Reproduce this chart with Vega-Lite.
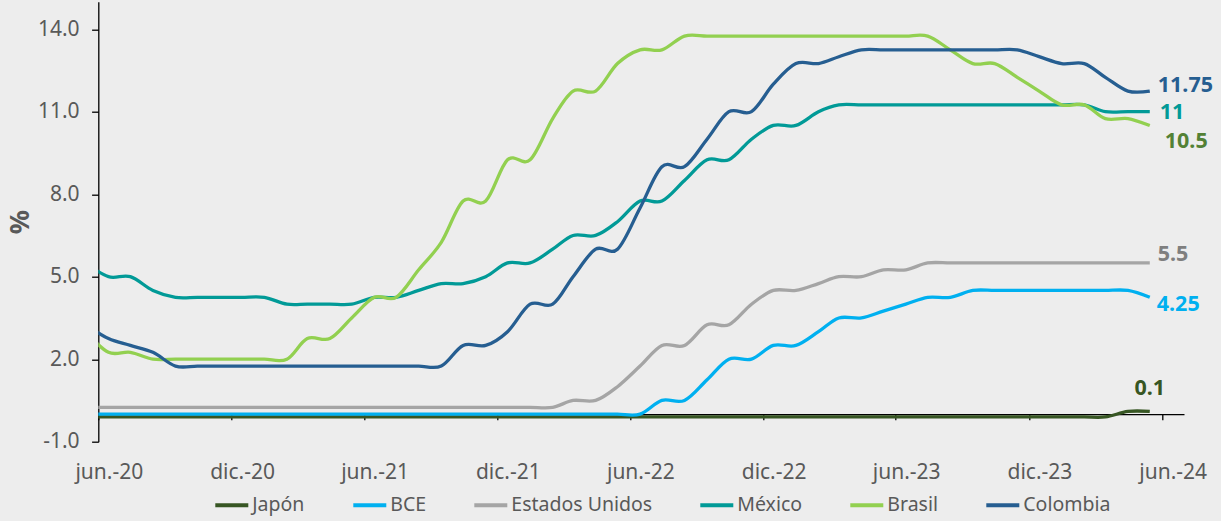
{
  "$schema": "https://vega.github.io/schema/vega-lite/v6.json",
  "width": 1085.7,
  "height": 440,
  "autosize": {"type": "none"},
  "padding": {"left": 98.3, "top": 1.7, "right": 37, "bottom": 79.3},
  "background": "#EDEDED",
  "config": {"view": {"stroke": null}, "font": "Noto Sans"},
  "data": {
    "format": {"parse": {"fecha": "utc:'%Y-%m-%d'"}},
    "values": [
      {"fecha":"2020-05-15","serie":"Japón","tasa":-0.1},{"fecha":"2020-06-15","serie":"Japón","tasa":-0.1},{"fecha":"2020-07-15","serie":"Japón","tasa":-0.1},{"fecha":"2020-08-15","serie":"Japón","tasa":-0.1},{"fecha":"2020-09-15","serie":"Japón","tasa":-0.1},{"fecha":"2020-10-15","serie":"Japón","tasa":-0.1},{"fecha":"2020-11-15","serie":"Japón","tasa":-0.1},{"fecha":"2020-12-15","serie":"Japón","tasa":-0.1},
      {"fecha":"2021-01-15","serie":"Japón","tasa":-0.1},{"fecha":"2021-02-15","serie":"Japón","tasa":-0.1},{"fecha":"2021-03-15","serie":"Japón","tasa":-0.1},{"fecha":"2021-04-15","serie":"Japón","tasa":-0.1},{"fecha":"2021-05-15","serie":"Japón","tasa":-0.1},{"fecha":"2021-06-15","serie":"Japón","tasa":-0.1},{"fecha":"2021-07-15","serie":"Japón","tasa":-0.1},{"fecha":"2021-08-15","serie":"Japón","tasa":-0.1},{"fecha":"2021-09-15","serie":"Japón","tasa":-0.1},{"fecha":"2021-10-15","serie":"Japón","tasa":-0.1},{"fecha":"2021-11-15","serie":"Japón","tasa":-0.1},{"fecha":"2021-12-15","serie":"Japón","tasa":-0.1},
      {"fecha":"2022-01-15","serie":"Japón","tasa":-0.1},{"fecha":"2022-02-15","serie":"Japón","tasa":-0.1},{"fecha":"2022-03-15","serie":"Japón","tasa":-0.1},{"fecha":"2022-04-15","serie":"Japón","tasa":-0.1},{"fecha":"2022-05-15","serie":"Japón","tasa":-0.1},{"fecha":"2022-06-15","serie":"Japón","tasa":-0.1},{"fecha":"2022-07-15","serie":"Japón","tasa":-0.1},{"fecha":"2022-08-15","serie":"Japón","tasa":-0.1},{"fecha":"2022-09-15","serie":"Japón","tasa":-0.1},{"fecha":"2022-10-15","serie":"Japón","tasa":-0.1},{"fecha":"2022-11-15","serie":"Japón","tasa":-0.1},{"fecha":"2022-12-15","serie":"Japón","tasa":-0.1},
      {"fecha":"2023-01-15","serie":"Japón","tasa":-0.1},{"fecha":"2023-02-15","serie":"Japón","tasa":-0.1},{"fecha":"2023-03-15","serie":"Japón","tasa":-0.1},{"fecha":"2023-04-15","serie":"Japón","tasa":-0.1},{"fecha":"2023-05-15","serie":"Japón","tasa":-0.1},{"fecha":"2023-06-15","serie":"Japón","tasa":-0.1},{"fecha":"2023-07-15","serie":"Japón","tasa":-0.1},{"fecha":"2023-08-15","serie":"Japón","tasa":-0.1},{"fecha":"2023-09-15","serie":"Japón","tasa":-0.1},{"fecha":"2023-10-15","serie":"Japón","tasa":-0.1},{"fecha":"2023-11-15","serie":"Japón","tasa":-0.1},{"fecha":"2023-12-15","serie":"Japón","tasa":-0.1},
      {"fecha":"2024-01-15","serie":"Japón","tasa":-0.1},{"fecha":"2024-02-15","serie":"Japón","tasa":-0.1},{"fecha":"2024-03-15","serie":"Japón","tasa":-0.1},{"fecha":"2024-04-15","serie":"Japón","tasa":0.1},{"fecha":"2024-05-15","serie":"Japón","tasa":0.1},

      {"fecha":"2020-05-15","serie":"BCE","tasa":0},{"fecha":"2020-06-15","serie":"BCE","tasa":0},{"fecha":"2020-07-15","serie":"BCE","tasa":0},{"fecha":"2020-08-15","serie":"BCE","tasa":0},{"fecha":"2020-09-15","serie":"BCE","tasa":0},{"fecha":"2020-10-15","serie":"BCE","tasa":0},{"fecha":"2020-11-15","serie":"BCE","tasa":0},{"fecha":"2020-12-15","serie":"BCE","tasa":0},
      {"fecha":"2021-01-15","serie":"BCE","tasa":0},{"fecha":"2021-02-15","serie":"BCE","tasa":0},{"fecha":"2021-03-15","serie":"BCE","tasa":0},{"fecha":"2021-04-15","serie":"BCE","tasa":0},{"fecha":"2021-05-15","serie":"BCE","tasa":0},{"fecha":"2021-06-15","serie":"BCE","tasa":0},{"fecha":"2021-07-15","serie":"BCE","tasa":0},{"fecha":"2021-08-15","serie":"BCE","tasa":0},{"fecha":"2021-09-15","serie":"BCE","tasa":0},{"fecha":"2021-10-15","serie":"BCE","tasa":0},{"fecha":"2021-11-15","serie":"BCE","tasa":0},{"fecha":"2021-12-15","serie":"BCE","tasa":0},
      {"fecha":"2022-01-15","serie":"BCE","tasa":0},{"fecha":"2022-02-15","serie":"BCE","tasa":0},{"fecha":"2022-03-15","serie":"BCE","tasa":0},{"fecha":"2022-04-15","serie":"BCE","tasa":0},{"fecha":"2022-05-15","serie":"BCE","tasa":0},{"fecha":"2022-06-15","serie":"BCE","tasa":0},{"fecha":"2022-07-15","serie":"BCE","tasa":0.5},{"fecha":"2022-08-15","serie":"BCE","tasa":0.5},{"fecha":"2022-09-15","serie":"BCE","tasa":1.25},{"fecha":"2022-10-15","serie":"BCE","tasa":2.0},{"fecha":"2022-11-15","serie":"BCE","tasa":2.0},{"fecha":"2022-12-15","serie":"BCE","tasa":2.5},
      {"fecha":"2023-01-15","serie":"BCE","tasa":2.5},{"fecha":"2023-02-15","serie":"BCE","tasa":3.0},{"fecha":"2023-03-15","serie":"BCE","tasa":3.5},{"fecha":"2023-04-15","serie":"BCE","tasa":3.5},{"fecha":"2023-05-15","serie":"BCE","tasa":3.75},{"fecha":"2023-06-15","serie":"BCE","tasa":4.0},{"fecha":"2023-07-15","serie":"BCE","tasa":4.25},{"fecha":"2023-08-15","serie":"BCE","tasa":4.25},{"fecha":"2023-09-15","serie":"BCE","tasa":4.5},{"fecha":"2023-10-15","serie":"BCE","tasa":4.5},{"fecha":"2023-11-15","serie":"BCE","tasa":4.5},{"fecha":"2023-12-15","serie":"BCE","tasa":4.5},
      {"fecha":"2024-01-15","serie":"BCE","tasa":4.5},{"fecha":"2024-02-15","serie":"BCE","tasa":4.5},{"fecha":"2024-03-15","serie":"BCE","tasa":4.5},{"fecha":"2024-04-15","serie":"BCE","tasa":4.5},{"fecha":"2024-05-15","serie":"BCE","tasa":4.25},

      {"fecha":"2020-05-15","serie":"Estados Unidos","tasa":0.25},{"fecha":"2020-06-15","serie":"Estados Unidos","tasa":0.25},{"fecha":"2020-07-15","serie":"Estados Unidos","tasa":0.25},{"fecha":"2020-08-15","serie":"Estados Unidos","tasa":0.25},{"fecha":"2020-09-15","serie":"Estados Unidos","tasa":0.25},{"fecha":"2020-10-15","serie":"Estados Unidos","tasa":0.25},{"fecha":"2020-11-15","serie":"Estados Unidos","tasa":0.25},{"fecha":"2020-12-15","serie":"Estados Unidos","tasa":0.25},
      {"fecha":"2021-01-15","serie":"Estados Unidos","tasa":0.25},{"fecha":"2021-02-15","serie":"Estados Unidos","tasa":0.25},{"fecha":"2021-03-15","serie":"Estados Unidos","tasa":0.25},{"fecha":"2021-04-15","serie":"Estados Unidos","tasa":0.25},{"fecha":"2021-05-15","serie":"Estados Unidos","tasa":0.25},{"fecha":"2021-06-15","serie":"Estados Unidos","tasa":0.25},{"fecha":"2021-07-15","serie":"Estados Unidos","tasa":0.25},{"fecha":"2021-08-15","serie":"Estados Unidos","tasa":0.25},{"fecha":"2021-09-15","serie":"Estados Unidos","tasa":0.25},{"fecha":"2021-10-15","serie":"Estados Unidos","tasa":0.25},{"fecha":"2021-11-15","serie":"Estados Unidos","tasa":0.25},{"fecha":"2021-12-15","serie":"Estados Unidos","tasa":0.25},
      {"fecha":"2022-01-15","serie":"Estados Unidos","tasa":0.25},{"fecha":"2022-02-15","serie":"Estados Unidos","tasa":0.25},{"fecha":"2022-03-15","serie":"Estados Unidos","tasa":0.5},{"fecha":"2022-04-15","serie":"Estados Unidos","tasa":0.5},{"fecha":"2022-05-15","serie":"Estados Unidos","tasa":1.0},{"fecha":"2022-06-15","serie":"Estados Unidos","tasa":1.75},{"fecha":"2022-07-15","serie":"Estados Unidos","tasa":2.5},{"fecha":"2022-08-15","serie":"Estados Unidos","tasa":2.5},{"fecha":"2022-09-15","serie":"Estados Unidos","tasa":3.25},{"fecha":"2022-10-15","serie":"Estados Unidos","tasa":3.25},{"fecha":"2022-11-15","serie":"Estados Unidos","tasa":4.0},{"fecha":"2022-12-15","serie":"Estados Unidos","tasa":4.5},
      {"fecha":"2023-01-15","serie":"Estados Unidos","tasa":4.5},{"fecha":"2023-02-15","serie":"Estados Unidos","tasa":4.75},{"fecha":"2023-03-15","serie":"Estados Unidos","tasa":5.0},{"fecha":"2023-04-15","serie":"Estados Unidos","tasa":5.0},{"fecha":"2023-05-15","serie":"Estados Unidos","tasa":5.25},{"fecha":"2023-06-15","serie":"Estados Unidos","tasa":5.25},{"fecha":"2023-07-15","serie":"Estados Unidos","tasa":5.5},{"fecha":"2023-08-15","serie":"Estados Unidos","tasa":5.5},{"fecha":"2023-09-15","serie":"Estados Unidos","tasa":5.5},{"fecha":"2023-10-15","serie":"Estados Unidos","tasa":5.5},{"fecha":"2023-11-15","serie":"Estados Unidos","tasa":5.5},{"fecha":"2023-12-15","serie":"Estados Unidos","tasa":5.5},
      {"fecha":"2024-01-15","serie":"Estados Unidos","tasa":5.5},{"fecha":"2024-02-15","serie":"Estados Unidos","tasa":5.5},{"fecha":"2024-03-15","serie":"Estados Unidos","tasa":5.5},{"fecha":"2024-04-15","serie":"Estados Unidos","tasa":5.5},{"fecha":"2024-05-15","serie":"Estados Unidos","tasa":5.5},

      {"fecha":"2020-05-15","serie":"México","tasa":5.5},{"fecha":"2020-06-15","serie":"México","tasa":5.0},{"fecha":"2020-07-15","serie":"México","tasa":5.0},{"fecha":"2020-08-15","serie":"México","tasa":4.5},{"fecha":"2020-09-15","serie":"México","tasa":4.25},{"fecha":"2020-10-15","serie":"México","tasa":4.25},{"fecha":"2020-11-15","serie":"México","tasa":4.25},{"fecha":"2020-12-15","serie":"México","tasa":4.25},
      {"fecha":"2021-01-15","serie":"México","tasa":4.25},{"fecha":"2021-02-15","serie":"México","tasa":4.0},{"fecha":"2021-03-15","serie":"México","tasa":4.0},{"fecha":"2021-04-15","serie":"México","tasa":4.0},{"fecha":"2021-05-15","serie":"México","tasa":4.0},{"fecha":"2021-06-15","serie":"México","tasa":4.25},{"fecha":"2021-07-15","serie":"México","tasa":4.25},{"fecha":"2021-08-15","serie":"México","tasa":4.5},{"fecha":"2021-09-15","serie":"México","tasa":4.75},{"fecha":"2021-10-15","serie":"México","tasa":4.75},{"fecha":"2021-11-15","serie":"México","tasa":5.0},{"fecha":"2021-12-15","serie":"México","tasa":5.5},
      {"fecha":"2022-01-15","serie":"México","tasa":5.5},{"fecha":"2022-02-15","serie":"México","tasa":6.0},{"fecha":"2022-03-15","serie":"México","tasa":6.5},{"fecha":"2022-04-15","serie":"México","tasa":6.5},{"fecha":"2022-05-15","serie":"México","tasa":7.0},{"fecha":"2022-06-15","serie":"México","tasa":7.75},{"fecha":"2022-07-15","serie":"México","tasa":7.75},{"fecha":"2022-08-15","serie":"México","tasa":8.5},{"fecha":"2022-09-15","serie":"México","tasa":9.25},{"fecha":"2022-10-15","serie":"México","tasa":9.25},{"fecha":"2022-11-15","serie":"México","tasa":10.0},{"fecha":"2022-12-15","serie":"México","tasa":10.5},
      {"fecha":"2023-01-15","serie":"México","tasa":10.5},{"fecha":"2023-02-15","serie":"México","tasa":11.0},{"fecha":"2023-03-15","serie":"México","tasa":11.25},{"fecha":"2023-04-15","serie":"México","tasa":11.25},{"fecha":"2023-05-15","serie":"México","tasa":11.25},{"fecha":"2023-06-15","serie":"México","tasa":11.25},{"fecha":"2023-07-15","serie":"México","tasa":11.25},{"fecha":"2023-08-15","serie":"México","tasa":11.25},{"fecha":"2023-09-15","serie":"México","tasa":11.25},{"fecha":"2023-10-15","serie":"México","tasa":11.25},{"fecha":"2023-11-15","serie":"México","tasa":11.25},{"fecha":"2023-12-15","serie":"México","tasa":11.25},
      {"fecha":"2024-01-15","serie":"México","tasa":11.25},{"fecha":"2024-02-15","serie":"México","tasa":11.25},{"fecha":"2024-03-15","serie":"México","tasa":11.0},{"fecha":"2024-04-15","serie":"México","tasa":11.0},{"fecha":"2024-05-15","serie":"México","tasa":11.0},

      {"fecha":"2020-05-15","serie":"Brasil","tasa":3.0},{"fecha":"2020-06-15","serie":"Brasil","tasa":2.25},{"fecha":"2020-07-15","serie":"Brasil","tasa":2.25},{"fecha":"2020-08-15","serie":"Brasil","tasa":2.0},{"fecha":"2020-09-15","serie":"Brasil","tasa":2.0},{"fecha":"2020-10-15","serie":"Brasil","tasa":2.0},{"fecha":"2020-11-15","serie":"Brasil","tasa":2.0},{"fecha":"2020-12-15","serie":"Brasil","tasa":2.0},
      {"fecha":"2021-01-15","serie":"Brasil","tasa":2.0},{"fecha":"2021-02-15","serie":"Brasil","tasa":2.0},{"fecha":"2021-03-15","serie":"Brasil","tasa":2.75},{"fecha":"2021-04-15","serie":"Brasil","tasa":2.75},{"fecha":"2021-05-15","serie":"Brasil","tasa":3.5},{"fecha":"2021-06-15","serie":"Brasil","tasa":4.25},{"fecha":"2021-07-15","serie":"Brasil","tasa":4.25},{"fecha":"2021-08-15","serie":"Brasil","tasa":5.25},{"fecha":"2021-09-15","serie":"Brasil","tasa":6.25},{"fecha":"2021-10-15","serie":"Brasil","tasa":7.75},{"fecha":"2021-11-15","serie":"Brasil","tasa":7.75},{"fecha":"2021-12-15","serie":"Brasil","tasa":9.25},
      {"fecha":"2022-01-15","serie":"Brasil","tasa":9.25},{"fecha":"2022-02-15","serie":"Brasil","tasa":10.75},{"fecha":"2022-03-15","serie":"Brasil","tasa":11.75},{"fecha":"2022-04-15","serie":"Brasil","tasa":11.75},{"fecha":"2022-05-15","serie":"Brasil","tasa":12.75},{"fecha":"2022-06-15","serie":"Brasil","tasa":13.25},{"fecha":"2022-07-15","serie":"Brasil","tasa":13.25},{"fecha":"2022-08-15","serie":"Brasil","tasa":13.75},{"fecha":"2022-09-15","serie":"Brasil","tasa":13.75},{"fecha":"2022-10-15","serie":"Brasil","tasa":13.75},{"fecha":"2022-11-15","serie":"Brasil","tasa":13.75},{"fecha":"2022-12-15","serie":"Brasil","tasa":13.75},
      {"fecha":"2023-01-15","serie":"Brasil","tasa":13.75},{"fecha":"2023-02-15","serie":"Brasil","tasa":13.75},{"fecha":"2023-03-15","serie":"Brasil","tasa":13.75},{"fecha":"2023-04-15","serie":"Brasil","tasa":13.75},{"fecha":"2023-05-15","serie":"Brasil","tasa":13.75},{"fecha":"2023-06-15","serie":"Brasil","tasa":13.75},{"fecha":"2023-07-15","serie":"Brasil","tasa":13.75},{"fecha":"2023-08-15","serie":"Brasil","tasa":13.25},{"fecha":"2023-09-15","serie":"Brasil","tasa":12.75},{"fecha":"2023-10-15","serie":"Brasil","tasa":12.75},{"fecha":"2023-11-15","serie":"Brasil","tasa":12.25},{"fecha":"2023-12-15","serie":"Brasil","tasa":11.75},
      {"fecha":"2024-01-15","serie":"Brasil","tasa":11.25},{"fecha":"2024-02-15","serie":"Brasil","tasa":11.25},{"fecha":"2024-03-15","serie":"Brasil","tasa":10.75},{"fecha":"2024-04-15","serie":"Brasil","tasa":10.75},{"fecha":"2024-05-15","serie":"Brasil","tasa":10.5},

      {"fecha":"2020-05-15","serie":"Colombia","tasa":3.25},{"fecha":"2020-06-15","serie":"Colombia","tasa":2.75},{"fecha":"2020-07-15","serie":"Colombia","tasa":2.5},{"fecha":"2020-08-15","serie":"Colombia","tasa":2.25},{"fecha":"2020-09-15","serie":"Colombia","tasa":1.75},{"fecha":"2020-10-15","serie":"Colombia","tasa":1.75},{"fecha":"2020-11-15","serie":"Colombia","tasa":1.75},{"fecha":"2020-12-15","serie":"Colombia","tasa":1.75},
      {"fecha":"2021-01-15","serie":"Colombia","tasa":1.75},{"fecha":"2021-02-15","serie":"Colombia","tasa":1.75},{"fecha":"2021-03-15","serie":"Colombia","tasa":1.75},{"fecha":"2021-04-15","serie":"Colombia","tasa":1.75},{"fecha":"2021-05-15","serie":"Colombia","tasa":1.75},{"fecha":"2021-06-15","serie":"Colombia","tasa":1.75},{"fecha":"2021-07-15","serie":"Colombia","tasa":1.75},{"fecha":"2021-08-15","serie":"Colombia","tasa":1.75},{"fecha":"2021-09-15","serie":"Colombia","tasa":1.75},{"fecha":"2021-10-15","serie":"Colombia","tasa":2.5},{"fecha":"2021-11-15","serie":"Colombia","tasa":2.5},{"fecha":"2021-12-15","serie":"Colombia","tasa":3.0},
      {"fecha":"2022-01-15","serie":"Colombia","tasa":4.0},{"fecha":"2022-02-15","serie":"Colombia","tasa":4.0},{"fecha":"2022-03-15","serie":"Colombia","tasa":5.0},{"fecha":"2022-04-15","serie":"Colombia","tasa":6.0},{"fecha":"2022-05-15","serie":"Colombia","tasa":6.0},{"fecha":"2022-06-15","serie":"Colombia","tasa":7.5},{"fecha":"2022-07-15","serie":"Colombia","tasa":9.0},{"fecha":"2022-08-15","serie":"Colombia","tasa":9.0},{"fecha":"2022-09-15","serie":"Colombia","tasa":10.0},{"fecha":"2022-10-15","serie":"Colombia","tasa":11.0},{"fecha":"2022-11-15","serie":"Colombia","tasa":11.0},{"fecha":"2022-12-15","serie":"Colombia","tasa":12.0},
      {"fecha":"2023-01-15","serie":"Colombia","tasa":12.75},{"fecha":"2023-02-15","serie":"Colombia","tasa":12.75},{"fecha":"2023-03-15","serie":"Colombia","tasa":13.0},{"fecha":"2023-04-15","serie":"Colombia","tasa":13.25},{"fecha":"2023-05-15","serie":"Colombia","tasa":13.25},{"fecha":"2023-06-15","serie":"Colombia","tasa":13.25},{"fecha":"2023-07-15","serie":"Colombia","tasa":13.25},{"fecha":"2023-08-15","serie":"Colombia","tasa":13.25},{"fecha":"2023-09-15","serie":"Colombia","tasa":13.25},{"fecha":"2023-10-15","serie":"Colombia","tasa":13.25},{"fecha":"2023-11-15","serie":"Colombia","tasa":13.25},{"fecha":"2023-12-15","serie":"Colombia","tasa":13.0},
      {"fecha":"2024-01-15","serie":"Colombia","tasa":12.75},{"fecha":"2024-02-15","serie":"Colombia","tasa":12.75},{"fecha":"2024-03-15","serie":"Colombia","tasa":12.25},{"fecha":"2024-04-15","serie":"Colombia","tasa":11.75},{"fecha":"2024-05-15","serie":"Colombia","tasa":11.75}
    ]
  },
  "encoding": {
    "x": {
      "field": "fecha",
      "type": "temporal",
      "scale": {
        "type": "utc",
        "domain": [
          {"year": 2020, "month": 6, "date": 1, "utc": true},
          {"year": 2024, "month": 7, "date": 1, "utc": true}
        ]
      },
      "axis": {
        "title": null,
        "grid": false,
        "offset": -27.5,
        "values": [
          {"year": 2020, "month": 6, "date": 1, "utc": true},
          {"year": 2020, "month": 12, "date": 1, "utc": true},
          {"year": 2021, "month": 6, "date": 1, "utc": true},
          {"year": 2021, "month": 12, "date": 1, "utc": true},
          {"year": 2022, "month": 6, "date": 1, "utc": true},
          {"year": 2022, "month": 12, "date": 1, "utc": true},
          {"year": 2023, "month": 6, "date": 1, "utc": true},
          {"year": 2023, "month": 12, "date": 1, "utc": true},
          {"year": 2024, "month": 6, "date": 1, "utc": true}
        ],
        "labelExpr": "(utcmonth(datum.value) == 5 ? 'jun.-' : 'dic.-') + utcFormat(datum.value, '%y')",
        "domainColor": "#000000",
        "domainWidth": 1.3,
        "tickColor": "#000000",
        "tickWidth": 1.3,
        "tickSize": 5.5,
        "labelFont": "Noto Sans",
        "labelFontSize": 21,
        "labelColor": "#595959",
        "labelOffset": 10.5,
        "labelPadding": 58.6,
        "labelBaseline": "alphabetic",
        "labelFlush": false,
        "labelOverlap": false
      }
    },
    "y": {
      "field": "tasa",
      "type": "quantitative",
      "scale": {"domain": [-1, 15], "nice": false, "zero": false},
      "axis": {
        "values": [-1, 2, 5, 8, 11, 14],
        "labelExpr": "datum.value < 0 ? '-' + format(-datum.value, '.1f') : format(datum.value, '.1f')",
        "grid": false,
        "domainColor": "#000000",
        "domainWidth": 1.3,
        "tickColor": "#000000",
        "tickWidth": 1.3,
        "tickSize": 6.7,
        "labelFont": "Noto Sans",
        "labelFontSize": 21,
        "labelColor": "#595959",
        "labelPadding": 12.5,
        "title": "%",
        "titleFont": "Noto Sans",
        "titleFontSize": 27,
        "titleFontWeight": "bold",
        "titleColor": "#595959",
        "titleAngle": -90,
        "titleAlign": "center",
        "titleBaseline": "middle",
        "titleX": -78,
        "titleY": 220
      }
    }
  },
  "layer": [
    {
      "mark": {"type": "line", "interpolate": "cardinal", "tension": 0, "strokeWidth": 3.3, "clip": true},
      "encoding": {
        "color": {
          "field": "serie",
          "type": "nominal",
          "scale": {
            "domain": ["Japón", "BCE", "Estados Unidos", "México", "Brasil", "Colombia"],
            "range": ["#375623", "#00B0F0", "#A5A5A5", "#019A97", "#92D050", "#265E91"]
          },
          "legend": {
            "orient": "none",
            "legendX": 115,
            "legendY": 485,
            "direction": "horizontal",
            "title": null,
            "symbolType": "stroke",
            "symbolSize": 1089,
            "symbolStrokeWidth": 4,
            "labelFont": "Noto Sans",
            "labelFontSize": 19.5,
            "labelColor": "#595959",
            "labelOffset": 2,
            "labelLimit": 300,
            "columnPadding": 40,
            "padding": 0
          }
        }
      }
    },
    {
      "transform": [{"filter": "datum.serie === 'Colombia' && utcyear(datum.fecha) === 2024 && utcmonth(datum.fecha) === 4"}],
      "mark": {"type": "text", "align": "left", "baseline": "middle", "dx": 8, "dy": -5, "font": "Noto Sans", "fontSize": 21.5, "fontWeight": "bold", "fill": "#265E91"},
      "encoding": {"text": {"field": "tasa", "type": "quantitative", "format": "~g"}}
    },
    {
      "transform": [{"filter": "datum.serie === 'México' && utcyear(datum.fecha) === 2024 && utcmonth(datum.fecha) === 4"}],
      "mark": {"type": "text", "align": "left", "baseline": "middle", "dx": 10, "dy": 1, "font": "Noto Sans", "fontSize": 21.5, "fontWeight": "bold", "fill": "#019A97"},
      "encoding": {"text": {"field": "tasa", "type": "quantitative", "format": "~g"}}
    },
    {
      "transform": [{"filter": "datum.serie === 'Brasil' && utcyear(datum.fecha) === 2024 && utcmonth(datum.fecha) === 4"}],
      "mark": {"type": "text", "align": "left", "baseline": "middle", "dx": 15, "dy": 17, "font": "Noto Sans", "fontSize": 21.5, "fontWeight": "bold", "fill": "#538135"},
      "encoding": {"text": {"field": "tasa", "type": "quantitative", "format": "~g"}}
    },
    {
      "transform": [{"filter": "datum.serie === 'Estados Unidos' && utcyear(datum.fecha) === 2024 && utcmonth(datum.fecha) === 4"}],
      "mark": {"type": "text", "align": "left", "baseline": "middle", "dx": 8, "dy": -8, "font": "Noto Sans", "fontSize": 21.5, "fontWeight": "bold", "fill": "#7F7F7F"},
      "encoding": {"text": {"field": "tasa", "type": "quantitative", "format": "~g"}}
    },
    {
      "transform": [{"filter": "datum.serie === 'BCE' && utcyear(datum.fecha) === 2024 && utcmonth(datum.fecha) === 4"}],
      "mark": {"type": "text", "align": "left", "baseline": "middle", "dx": 7, "dy": 8, "font": "Noto Sans", "fontSize": 21.5, "fontWeight": "bold", "fill": "#00B0F0"},
      "encoding": {"text": {"field": "tasa", "type": "quantitative", "format": "~g"}}
    },
    {
      "transform": [{"filter": "datum.serie === 'Japón' && utcyear(datum.fecha) === 2024 && utcmonth(datum.fecha) === 4"}],
      "mark": {"type": "text", "align": "center", "baseline": "middle", "dx": 0, "dy": -22.5, "font": "Noto Sans", "fontSize": 21.5, "fontWeight": "bold", "fill": "#375623"},
      "encoding": {"text": {"field": "tasa", "type": "quantitative", "format": "~g"}}
    }
  ]
}
